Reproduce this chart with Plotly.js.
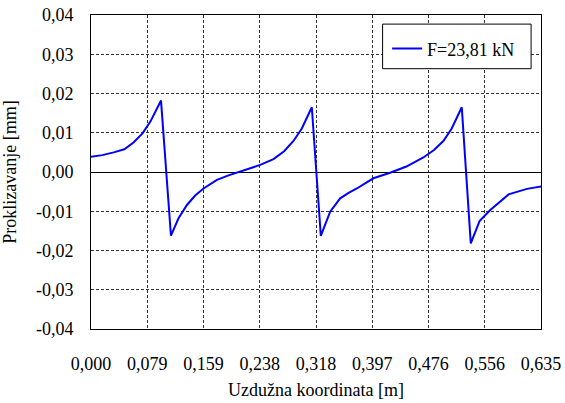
<!DOCTYPE html>
<html>
<head>
<meta charset="utf-8">
<script src="https://cdn.plot.ly/plotly-3.0.1.min.js"></script>
<style>html,body{margin:0;padding:0;background:#fff;}#chart{width:565px;height:403px;}</style>
</head>
<body>
<div id="chart"></div>
<script>
// Data (x in m, y in mm)
var xPos = [0, 0.016, 0.032, 0.047, 0.060, 0.073, 0.084, 0.0988,
  0.1128, 0.1235, 0.1354, 0.147, 0.1588, 0.1777, 0.195, 0.2107, 0.2237, 0.2388, 0.2575, 0.2725, 0.2857, 0.2975, 0.3116,
  0.3243, 0.3375, 0.3516, 0.3635, 0.3751, 0.3985, 0.4221, 0.4450, 0.469, 0.4840, 0.4972, 0.509, 0.5232,
  0.5359, 0.5483, 0.5634, 0.5893, 0.6152, 0.635];
var slip = [0.0039, 0.0043, 0.0050, 0.0058, 0.0075, 0.0099, 0.0129, 0.0182,
  -0.0162, -0.0118, -0.0084, -0.0060, -0.0042, -0.0020, -0.0008, 0.0001, 0.0008, 0.0018, 0.0033, 0.0053, 0.0079, 0.0111, 0.0165,
  -0.0163, -0.0101, -0.0067, -0.0053, -0.0042, -0.0016, -0.0002, 0.0014, 0.0037, 0.0056, 0.0079, 0.0111, 0.0165,
  -0.0182, -0.0125, -0.0097, -0.0057, -0.0043, -0.0037];
var seriesName = "F=23,81 kN";
var xTickVals = [0, 0.079375, 0.15875, 0.238125, 0.3175, 0.396875, 0.47625, 0.555625, 0.635];
var xTickText = ["0,000", "0,079", "0,159", "0,238", "0,318", "0,397", "0,476", "0,556", "0,635"];
var yTickVals = [-0.04, -0.03, -0.02, -0.01, 0, 0.01, 0.02, 0.03, 0.04];
var yTickText = ["-0,04", "-0,03", "-0,02", "-0,01", "0,00", "0,01", "0,02", "0,03", "0,04"];
var xTitle = "Uzdužna koordinata [m]";
var yTitle = "Proklizavanje [mm]";

var FONT = "Liberation Serif, Times New Roman, serif";

var trace = {
  x: xPos, y: slip, type: "scatter", mode: "lines", name: seriesName,
  line: {color: "#0000FF", width: 2}
};

var layout = {
  width: 565, height: 403,
  margin: {l: 91, r: 24, t: 15, b: 74},
  paper_bgcolor: "#fff", plot_bgcolor: "#fff",
  font: {family: FONT, size: 18, color: "#000"},
  showlegend: true,
  legend: {x: 0.658, y: 0.892, xanchor: "left", yanchor: "middle",
    bgcolor: "rgba(0,0,0,0)", borderwidth: 0, font: {family: FONT, size: 18, color: "#000"}},
  xaxis: {
    range: [0, 0.635], tickvals: xTickVals, ticktext: xTickText,
    showgrid: true, gridcolor: "#333", griddash: "3px,2px", gridwidth: 1,
    zeroline: false, showline: true, mirror: true, linecolor: "#000", linewidth: 1,
    ticks: "", tickfont: {family: FONT, size: 18, color: "#000"}, ticklabelstandoff: 18,
    title: {text: xTitle, font: {family: FONT, size: 18, color: "#000"}, standoff: 10},
    fixedrange: true
  },
  yaxis: {
    range: [-0.04, 0.04], tickvals: yTickVals, ticktext: yTickText,
    showgrid: true, gridcolor: "#333", griddash: "3px,2px", gridwidth: 1,
    zeroline: true, zerolinecolor: "#000", zerolinewidth: 1,
    showline: true, mirror: true, linecolor: "#000", linewidth: 1,
    ticks: "", tickfont: {family: FONT, size: 18, color: "#000"}, ticklabelstandoff: 13,
    title: {text: yTitle, font: {family: FONT, size: 18, color: "#000"}, standoff: 15},
    fixedrange: true
  },
  shapes: [{
    type: "rect", xref: "x domain", yref: "y domain", layer: "above",
    x0: 0.648, x1: 0.978, y0: 0.829, y1: 0.971,
    line: {color: "#000", width: 1}, fillcolor: "#fff"
  }]
};

Plotly.newPlot("chart", [trace], layout, {displayModeBar: false, staticPlot: true});
</script>
</body>
</html>
